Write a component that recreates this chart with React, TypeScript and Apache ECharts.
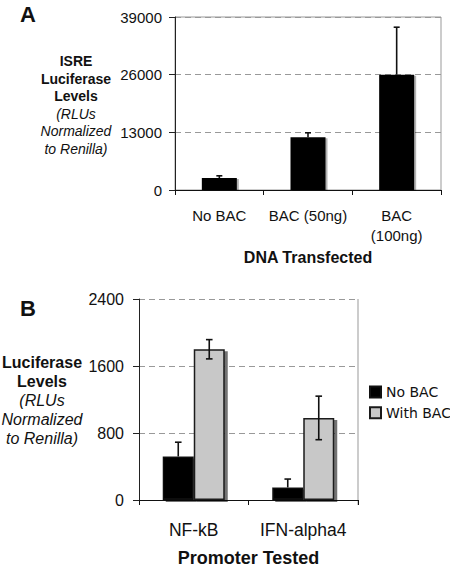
import React, { useEffect, useRef } from "react";
import * as echarts from "echarts";

// Panel A data
const catsA = ["No BAC", "BAC (50ng)", "BAC\n(100ng)"];
const valsA = [2700, 11900, 26000];
const errA = [500, 1000, 10700];
const ticksA = { min: 0, max: 39000, interval: 13000 };

// Panel B data
const catsB = ["NF-kB", "IFN-alpha4"];
const noBacB = [520, 150];
const errNoBacB = [170, 100];
const withBacB = [1800, 980];
const errWithBacB = [115, 260];
const ticksB = { min: 0, max: 2400, interval: 800 };

const ARIAL = "'Liberation Sans', Arial, sans-serif";

function errRender(offset: number, cap: number, upperOnly: boolean) {
  return (params: any, api: any) => {
    const x = api.value(0);
    const y = api.value(1);
    const e = api.value(2);
    const top = api.coord([x, y + e]);
    const bot = api.coord([x, upperOnly ? y : y - e]);
    const cx = top[0] + offset;
    const st = { stroke: "#111", lineWidth: 1.6 };
    const children: any[] = [
      { type: "line", shape: { x1: cx, y1: top[1], x2: cx, y2: bot[1] }, style: st },
      { type: "line", shape: { x1: cx - cap, y1: top[1], x2: cx + cap, y2: top[1] }, style: st },
    ];
    if (!upperOnly) {
      children.push({ type: "line", shape: { x1: cx - cap, y1: bot[1], x2: cx + cap, y2: bot[1] }, style: st });
    }
    return { type: "group", children };
  };
}

export default function App() {
  const ref = useRef<HTMLDivElement>(null);
  useEffect(() => {
    document.body.style.margin = "0";
    const chart = echarts.init(ref.current!, undefined, { renderer: "svg" });
    const yAxisCommon = (fs: number, margin: number) => ({
      type: "value",
      axisLine: { show: true, lineStyle: { color: "#222", width: 1 } },
      axisTick: { show: true, length: 6, lineStyle: { color: "#222" } },
      axisLabel: { color: "#111", fontSize: fs, fontFamily: ARIAL, margin, formatter: (v: number) => String(v) },
      splitLine: { show: true, lineStyle: { color: "#999", type: [6, 4], width: 1 } },
    });
    const shadow = { shadowColor: "rgba(0,0,0,0.55)", shadowOffsetX: 3, shadowOffsetY: 2, shadowBlur: 0 };
    const option: any = {
      animation: false,
      grid: [
        { left: 175, top: 17, width: 266, height: 173, show: true, borderColor: "#999", borderWidth: 1, backgroundColor: "transparent" },
        { left: 139, top: 299, width: 219, height: 206, show: false },
      ],
      xAxis: [
        {
          gridIndex: 0,
          type: "category",
          data: catsA,
          axisLine: { lineStyle: { color: "#111", width: 1 } },
          axisTick: { show: true, length: 5, alignWithLabel: false, lineStyle: { color: "#111" } },
          axisLabel: { color: "#111", fontSize: 15, fontFamily: ARIAL, margin: 15, lineHeight: 20, interval: 0 },
          name: "DNA Transfected",
          nameLocation: "middle",
          nameGap: 59,
          nameTextStyle: { fontSize: 16, fontWeight: "bold", fontFamily: ARIAL, color: "#111" },
        },
        {
          gridIndex: 1,
          type: "category",
          data: catsB,
          axisLine: { lineStyle: { color: "#111", width: 1 } },
          axisTick: { show: true, length: 5, alignWithLabel: false, lineStyle: { color: "#111" } },
          axisLabel: { color: "#111", fontSize: 17.5, fontFamily: ARIAL, margin: 21, interval: 0 },
          name: "Promoter Tested",
          nameLocation: "middle",
          nameGap: 49,
          nameTextStyle: { fontSize: 18, fontWeight: "bold", fontFamily: ARIAL, color: "#111" },
        },
      ],
      yAxis: [
        { gridIndex: 0, ...yAxisCommon(15, 13), ...ticksA },
        { gridIndex: 1, ...yAxisCommon(16, 15), ...ticksB },
      ],
      legend: {
        orient: "vertical",
        left: 364,
        top: 380,
        itemWidth: 11,
        itemHeight: 11,
        itemGap: 6.7,
        icon: "rect",
        data: ["No BAC", "With BAC"],
        textStyle: { fontFamily: "'DejaVu Sans', Verdana, sans-serif", fontSize: 14, color: "#111", padding: [0, 0, 0, 0] },
      },
      graphic: [
        { type: "text", x: 28, y: 14, style: { text: "A", font: "bold 22px 'Liberation Sans', Arial", fill: "#111", align: "center", verticalAlign: "middle" } },
        { type: "text", x: 28, y: 308, style: { text: "B", font: "bold 22px 'Liberation Sans', Arial", fill: "#111", align: "center", verticalAlign: "middle" } },
        { type: "line", shape: { x1: 358, y1: 299, x2: 358, y2: 505 }, style: { stroke: "#999", lineWidth: 1 } },
        {
          type: "text",
          x: 76,
          y: 105,
          style: {
            text: "{b|ISRE}\n{b|Luciferase}\n{b|Levels}\n{i|(RLUs}\n{i|Normalized}\n{i|to Renilla)}",
            align: "center",
            verticalAlign: "middle",
            fill: "#111",
            rich: {
              b: { fontFamily: ARIAL, fontWeight: "bold", fontSize: 14, lineHeight: 17.6, fill: "#111", align: "center" },
              i: { fontFamily: ARIAL, fontStyle: "italic", fontSize: 14, lineHeight: 17.6, fill: "#111", align: "center" },
            },
          },
        },
        {
          type: "text",
          x: 42,
          y: 400.5,
          style: {
            text: "{b|Luciferase}\n{b|Levels}\n{i|(RLUs}\n{i|Normalized}\n{i|to Renilla)}",
            align: "center",
            verticalAlign: "middle",
            fill: "#111",
            rich: {
              b: { fontFamily: ARIAL, fontWeight: "bold", fontSize: 16, lineHeight: 18.8, fill: "#111", align: "center" },
              i: { fontFamily: ARIAL, fontStyle: "italic", fontSize: 16, lineHeight: 18.8, fill: "#111", align: "center" },
            },
          },
        },
      ],
      series: [
        {
          type: "bar",
          xAxisIndex: 0,
          yAxisIndex: 0,
          data: valsA,
          barWidth: 35,
          itemStyle: { color: "#000", ...shadow, shadowColor: "rgba(0,0,0,0.3)", shadowOffsetX: 2, shadowOffsetY: 1 },
        },
        {
          type: "custom",
          xAxisIndex: 0,
          yAxisIndex: 0,
          renderItem: errRender(0, 3, true),
          data: valsA.map((v, i) => [i, v, errA[i]]),
          z: 5,
        },
        {
          name: "No BAC",
          type: "bar",
          xAxisIndex: 1,
          yAxisIndex: 1,
          data: noBacB,
          barWidth: 31,
          barGap: "0%",
          itemStyle: { color: "#000", borderColor: "#111", borderWidth: 1.5, ...shadow },
        },
        {
          name: "With BAC",
          type: "bar",
          xAxisIndex: 1,
          yAxisIndex: 1,
          data: withBacB,
          barWidth: 31,
          barGap: "0%",
          itemStyle: { color: "#c8c8c8", borderColor: "#1a1a1a", borderWidth: 1.5, ...shadow },
        },
        {
          type: "custom",
          xAxisIndex: 1,
          yAxisIndex: 1,
          renderItem: errRender(-15.5, 3.3, true),
          data: noBacB.map((v, i) => [i, v, errNoBacB[i]]),
          z: 5,
        },
        {
          type: "custom",
          xAxisIndex: 1,
          yAxisIndex: 1,
          renderItem: errRender(15.5, 3.3, false),
          data: withBacB.map((v, i) => [i, v, errWithBacB[i]]),
          z: 5,
        },
      ],
    };
    chart.setOption(option);
    return () => chart.dispose();
  }, []);
  return <div ref={ref} style={{ width: 450, height: 568 }} />;
}
